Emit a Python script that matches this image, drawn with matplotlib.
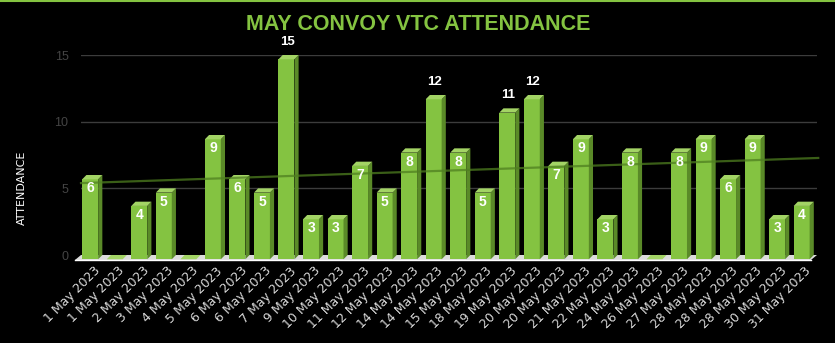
import numpy as np
import matplotlib
matplotlib.use("Agg")
import matplotlib.pyplot as plt
from matplotlib.patches import Polygon
from matplotlib.lines import Line2D

dates = ["1 May 2023", "1 May 2023", "2 May 2023", "3 May 2023", "4 May 2023",
         "5 May 2023", "6 May 2023", "6 May 2023", "7 May 2023", "9 May 2023",
         "10 May 2023", "11 May 2023", "12 May 2023", "14 May 2023", "14 May 2023",
         "15 May 2023", "18 May 2023", "19 May 2023", "20 May 2023", "20 May 2023",
         "21 May 2023", "22 May 2023", "24 May 2023", "26 May 2023", "27 May 2023",
         "28 May 2023", "28 May 2023", "28 May 2023", "30 May 2023", "31 May 2023"]
attendance = [6, 0, 4, 5, 0, 9, 6, 5, 15, 3, 3, 7, 5, 8, 12,
              8, 5, 11, 12, 7, 9, 3, 8, 0, 8, 9, 6, 9, 3, 4]
yticks = [0, 5, 10, 15]

GREEN = "#84c341"
SIDE = "#5a8a28"
TOP = "#a3d465"

fig = plt.figure(figsize=(8.35, 3.43), dpi=100, facecolor="black")
ax = fig.add_axes([81 / 835, 80 / 343, 736 / 835, 208 / 343])
ax.set_facecolor("black")
ax.set_xlim(-0.5, len(dates) - 0.5)
ax.set_ylim(-0.6, 15)

for s in ax.spines.values():
    s.set_visible(False)

# gridlines on the back wall
for y in yticks[1:]:
    ax.axhline(y, color="#3c3c3c", lw=1, zorder=0)

# floor
n = len(dates)
floor = Polygon([(-0.5, 0), (n - 0.5, 0), (n - 0.75, -0.38), (-0.75, -0.38)],
                closed=True, fc="#dcdcdc", ec="none", zorder=1, clip_on=False)
ax.add_patch(floor)
ax.plot([-0.75, n - 0.75], [-0.38, -0.38], color="white", lw=1, zorder=1, clip_on=False)

dx, dy = 0.17, 0.32
x0, x1 = -0.45, 0.2
xs = np.arange(n)
for c, v in zip(xs, attendance):
    b = -dy
    t = v - dy
    if v > 0:
        ax.add_patch(Polygon([(c + x0, b), (c + x1, b), (c + x1, t), (c + x0, t)],
                             fc=GREEN, ec="none", zorder=3))
        ax.add_patch(Polygon([(c + x1, b), (c + x1 + dx, 0), (c + x1 + dx, v), (c + x1, t)],
                             fc=SIDE, ec="none", zorder=3))
    ax.add_patch(Polygon([(c + x0, t), (c + x1, t), (c + x1 + dx, v), (c + x0 + dx, v)],
                         fc=TOP, ec="none", zorder=3))
    if v == 0:
        continue
    if v >= 11:
        ax.text(c - 0.1, v + 0.55, str(v), ha="center", va="bottom", color="white",
                fontsize=9.5, fontweight="bold", family="Liberation Sans", zorder=5, clip_on=False)
    else:
        ax.text(c - 0.12, v - 1.0, str(v), ha="center", va="center", color="white",
                fontsize=10, fontweight="bold", family="Liberation Sans", zorder=5)

# linear trendline
k, m = np.polyfit(xs, attendance, 1)
tx = np.array([-0.5, n - 0.45])
ax.plot(tx, k * tx + m, color="#4f7f20", alpha=0.75, lw=1.6, zorder=4, clip_on=False)

ax.set_yticks(yticks)
ax.set_yticklabels([str(y) for y in yticks], color="#444444", fontsize=9,
                   family="Liberation Sans")
ax.tick_params(axis="y", length=0, pad=9)
ax.set_xticks(xs)
ax.set_xticklabels(dates, rotation=45, ha="right", va="top", rotation_mode="anchor",
                   color="#d9d9d9", fontsize=9)
ax.tick_params(axis="x", length=0, pad=1)

fig.text(22 / 835, 1 - 188 / 343, "ATTENDANCE", rotation=90, ha="center", va="center",
         color="white", fontsize=8)
fig.text(418 / 835, 1 - 25 / 343, "MAY CONVOY VTC ATTENDANCE", ha="center", va="center",
         color="#84c341", fontsize=15.5, fontweight="bold", family="Liberation Sans")
fig.add_artist(Line2D([0, 1], [0.998, 0.998], color="#84c341", lw=1.5,
                      transform=fig.transFigure))

fig.savefig("out.png", dpi=100, facecolor="black")
